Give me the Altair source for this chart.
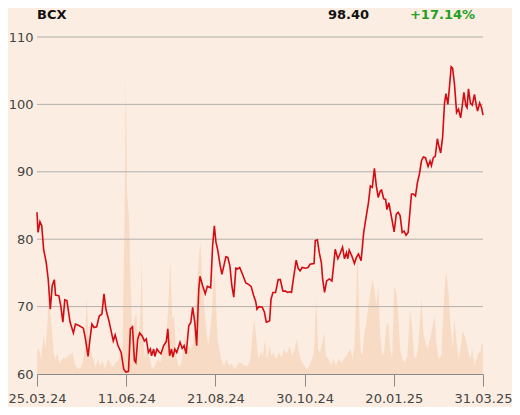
import altair as alt
import pandas as pd

# ---- data ----
symbol = "BCX"
last_price = "98.40"
change = "+17.14%"

tick_days = [0, 51, 102, 153, 204, 255]
tick_labels = ["25.03.24", "11.06.24", "21.08.24", "30.10.24", "20.01.25", "31.03.25"]
grid_values = [70, 80, 90, 100, 110]

price_day = [0.0, 0.6, 1.7, 2.7, 3.8, 5.3, 6.4, 7.6, 8.7, 9.9, 10.6, 12.5, 13.6, 14.8, 15.9, 17.1,
             18.9, 20.8, 22.0, 23.9, 26.5, 27.7, 29.2, 30.3, 31.4, 32.6, 34.1, 35.6, 37.1, 38.3,
             39.4, 41.3, 43.6, 44.7, 46.2, 48.1, 49.6, 50.8, 52.3, 53.4, 54.6, 55.7, 56.5, 57.6,
             58.7, 60.2, 61.4, 62.5, 63.7, 64.8, 65.5, 66.7, 67.4, 68.6, 69.7, 70.9, 72.4, 73.9,
             74.8, 75.8, 76.9, 77.7, 78.8, 79.9, 81.8, 83.0, 84.1, 85.3, 86.8, 87.9, 89.0, 90.2,
             91.3, 92.5, 93.2, 94.7, 96.2, 97.4, 99.3, 100.4, 101.4, 102.3, 103.4, 104.6, 105.7,
             106.8, 108.0, 109.1, 110.3, 111.4, 112.5, 113.7, 114.8, 115.9, 117.5, 119.4, 120.9,
             122.4, 123.9, 125.0, 125.8, 126.9, 128.8, 130.0, 131.1, 132.2, 133.0, 133.8, 134.9,
             136.4, 137.9, 139.1, 140.6, 142.1, 143.2, 144.4, 145.5, 146.6, 148.2, 149.3, 150.4,
             151.6, 153.5, 155.0, 156.1, 158.4, 159.1, 160.3, 161.4, 162.6, 163.3, 164.4, 165.6,
             167.1, 168.6, 169.4, 170.5, 172.0, 173.2, 174.7, 175.8, 176.9, 177.7, 178.5, 180.0,
             181.5, 182.6, 183.8, 185.3, 186.8, 188.3, 189.5, 190.6, 191.7, 192.9, 194.0, 195.1,
             196.3, 197.0, 198.2, 199.3, 200.1, 201.2, 202.0, 203.1, 204.2, 205.4, 206.5, 207.6,
             208.8, 209.9, 211.0, 212.2, 214.1, 215.2, 216.4, 217.5, 218.6, 219.8, 220.9, 222.1,
             223.6, 224.7, 225.5, 226.6, 227.7, 228.9, 229.6, 230.8, 231.9, 233.0, 233.8, 234.9,
             235.7, 236.8, 237.6, 238.7, 239.9, 241.0, 242.2, 242.9, 244.1, 245.2, 245.9, 246.7,
             247.8, 248.9, 250.1, 251.2, 251.9, 253.1, 254.2, 255.0]
price = [84.0, 81.0, 82.6, 82.0, 78.5, 76.5, 74.1, 69.6, 73.1, 74.0, 71.7, 71.6, 70.1, 67.7, 71.0,
         70.9, 67.7, 66.1, 67.4, 67.2, 66.8, 65.2, 62.6, 65.2, 67.4, 66.9, 67.0, 68.6, 68.9, 71.9,
         69.6, 67.7, 64.9, 65.8, 64.3, 63.2, 60.7, 60.3, 60.4, 66.7, 67.0, 62.0, 61.7, 65.2, 66.1,
         65.6, 64.9, 65.2, 63.2, 63.7, 62.7, 63.7, 62.6, 63.7, 63.3, 63.0, 64.2, 64.8, 66.7, 62.7,
         63.7, 62.5, 63.7, 63.2, 64.7, 63.8, 64.2, 63.0, 67.2, 67.6, 69.9, 67.7, 64.2, 72.6, 74.5,
         73.1, 71.9, 73.0, 72.8, 79.0, 82.0, 79.6, 78.3, 76.3, 74.8, 76.0, 77.4, 77.3, 76.0, 73.1,
         71.4, 75.7, 75.6, 75.8, 74.8, 73.5, 73.3, 73.0, 71.6, 70.8, 69.6, 70.0, 69.9, 69.2, 67.7,
         67.8, 67.9, 71.1, 72.1, 72.1, 74.0, 74.0, 72.3, 72.3, 72.1, 72.2, 72.1, 74.1, 76.9, 75.7,
         75.3, 75.8, 75.7, 75.8, 76.3, 76.4, 79.8, 79.9, 78.0, 76.5, 74.1, 72.1, 73.8, 74.1, 73.8,
         75.6, 78.5, 77.1, 77.8, 78.8, 77.1, 78.0, 77.1, 78.4, 77.5, 76.4, 77.3, 77.8, 76.8, 81.0,
         83.5, 85.4, 87.9, 87.7, 90.5, 87.9, 86.2, 87.2, 87.3, 86.0, 85.9, 84.4, 85.4, 84.2, 82.7,
         81.1, 83.7, 84.0, 83.5, 81.0, 81.2, 80.6, 81.0, 86.7, 86.7, 86.4, 88.4, 89.6, 91.6, 92.2,
         92.1, 90.8, 91.6, 90.9, 92.1, 92.3, 94.9, 94.0, 92.8, 95.1, 100.2, 101.6, 100.0, 102.2,
         105.6, 105.4, 103.0, 98.8, 99.3, 98.0, 99.3, 101.8, 99.8, 99.5, 102.3, 100.2, 99.9, 101.5,
         99.8, 99.0, 100.2, 99.5, 98.4]

vol_day = [0.0, 1.1, 2.3, 3.8, 4.9, 6.1, 6.6, 7.6, 8.4, 9.5, 10.6, 11.7, 12.9, 14.0, 15.2, 16.3,
           17.8, 19.3, 20.5, 21.6, 22.7, 24.6, 26.1, 27.3, 28.4, 29.6, 30.7, 32.2, 33.3, 34.9,
           36.0, 37.5, 39.0, 40.5, 41.7, 43.2, 44.7, 46.2, 47.7, 48.9, 50.0, 50.8, 51.5, 52.7,
           53.4, 54.6, 55.7, 56.8, 58.0, 59.1, 59.9, 60.6, 61.8, 62.9, 64.4, 65.9, 67.4, 69.0,
           70.5, 72.0, 73.5, 75.0, 76.2, 77.3, 78.4, 79.6, 80.7, 82.2, 83.4, 84.5, 85.6, 86.8,
           87.9, 89.0, 90.2, 91.3, 92.5, 93.4, 94.3, 95.5, 96.6, 97.8, 98.9, 100.0, 101.2, 101.9,
           103.1, 104.2, 105.3, 106.8, 108.4, 109.9, 111.4, 112.9, 114.4, 115.9, 117.5, 119.0,
           120.5, 122.0, 123.1, 124.3, 125.4, 126.6, 128.1, 129.2, 130.4, 131.5, 133.0, 134.1,
           135.3, 136.8, 138.3, 139.8, 141.3, 142.8, 144.4, 145.9, 147.4, 148.5, 149.7, 151.2,
           152.7, 154.2, 155.7, 157.2, 158.4, 159.1, 159.7, 160.7, 161.8, 162.9, 164.1, 165.2,
           166.7, 168.2, 169.4, 170.9, 172.4, 173.9, 175.4, 176.9, 178.1, 179.2, 180.4, 181.5,
           182.6, 183.2, 183.8, 184.9, 186.0, 187.2, 188.3, 189.5, 190.6, 191.7, 192.9, 194.0,
           195.1, 196.3, 197.4, 198.5, 199.7, 200.8, 202.0, 203.1, 204.2, 205.4, 206.5, 207.6,
           208.8, 210.3, 211.8, 213.3, 214.4, 215.6, 216.7, 217.8, 219.0, 219.8, 220.9, 222.1,
           223.2, 224.7, 226.2, 227.4, 228.5, 229.6, 231.2, 232.3, 233.4, 234.2, 235.3, 236.5,
           237.6, 238.7, 239.9, 241.0, 242.2, 243.3, 244.4, 245.6, 246.7, 247.8, 248.9, 250.1,
           251.2, 252.4, 253.5, 254.2, 255.0]
vol = [70, 75, 45, 115, 75, 165, 235, 185, 145, 65, 45, 65, 30, 40, 50, 45,
       55, 60, 65, 30, 20, 15, 35, 75, 235, 95, 65, 45, 20, 45,
       25, 40, 15, 45, 35, 20, 30, 40, 55, 75, 445, 900, 545, 460,
       295, 95, 165, 185, 65, 185, 355, 125, 45, 75, 45, 15, 25, 45,
       35, 65, 85, 195, 345, 165, 175, 55, 25, 25, 65, 115, 75, 85,
       75, 85, 145, 245, 345, 400, 295, 215, 145, 85, 125, 185, 305, 285,
       115, 75, 45, 25, 45, 25, 30, 15, 25, 35, 30, 25,
       25, 45, 115, 165, 105, 45, 65, 55, 105, 45, 85, 55,
       65, 45, 65, 50, 75, 60, 85, 55, 75, 105, 65, 40,
       25, 15, 25, 45, 65, 165, 225, 75, 65, 85, 125, 55,
       45, 25, 45, 25, 45, 35, 45, 55, 65, 75, 45, 85,
       245, 390, 245, 75, 55, 125, 155, 205, 245, 285, 255, 205,
       265, 115, 55, 65, 145, 155, 75, 45, 265, 245, 185, 75,
       45, 35, 55, 195, 145, 55, 45, 75, 165, 225, 125, 95,
       75, 105, 145, 175, 85, 45, 55, 185, 285, 305, 245, 145,
       75, 165, 95, 45, 75, 130, 115, 95, 65, 45, 75, 25,
       45, 65, 65, 95, 85]

price_df = pd.DataFrame({"day": price_day, "price": price})
vol_df = pd.DataFrame({"day": vol_day, "volume": vol})
grid_df = pd.DataFrame({"level": grid_values})

BG = "#fbede1"
FONT = "DejaVu Sans"

label_expr = " : ".join(
    f"datum.value == {d} ? '{l}'" for d, l in zip(tick_days, tick_labels)
) + " : ''"

x_scale = alt.Scale(domain=[tick_days[0], tick_days[-1]], nice=False, zero=False)
price_scale = alt.Scale(domain=[60, 110], nice=False, zero=False)

x_axis = alt.Axis(
    title=None, values=tick_days, labelExpr=label_expr, grid=False,
    domain=True, domainColor="#8a8a8a", ticks=True, tickColor="#8a8a8a",
    tickSize=12, labelPadding=6, labelFontSize=13, labelColor="#444444",
    labelFont=FONT, labelOverlap=False, labelBound=False, labelFlush=False,
)

volume = alt.Chart(vol_df).mark_area(color="#f8dbc4", interpolate="linear").encode(
    x=alt.X("day:Q", scale=x_scale, axis=x_axis),
    y=alt.Y("volume:Q", scale=alt.Scale(domain=[0, 1014], nice=False), axis=None),
)

grid = alt.Chart(grid_df).mark_rule(color="#b3b0ab", strokeWidth=1).encode(
    y=alt.Y("level:Q", scale=price_scale, axis=None),
)

line = alt.Chart(price_df).mark_line(color="#d50b13", strokeWidth=1.6).encode(
    x=alt.X("day:Q", scale=x_scale, axis=x_axis),
    y=alt.Y(
        "price:Q",
        scale=price_scale,
        axis=alt.Axis(
            title=None, values=[60, 70, 80, 90, 100, 110], grid=False, domain=False,
            ticks=False, labelPadding=4, labelFontSize=13, labelColor="#444444",
            labelFont=FONT, orient="left",
        ),
    ),
)

one = alt.Data(values=[{}])
header_style = dict(baseline="top", font=FONT, fontSize=13, fontWeight="bold")
t_symbol = alt.Chart(one).mark_text(align="left", color="#111111", **header_style).encode(
    x=alt.value(0), y=alt.value(-28), text=alt.value(symbol))
t_price = alt.Chart(one).mark_text(align="right", color="#111111", **header_style).encode(
    x=alt.value(332), y=alt.value(-28), text=alt.value(last_price))
t_change = alt.Chart(one).mark_text(align="right", color="#1fa01f", **header_style).encode(
    x=alt.value(438), y=alt.value(-28), text=alt.value(change))

chart = alt.layer(volume, grid, line, t_symbol, t_price, t_change).resolve_scale(
    y="independent"
).properties(
    width=446, height=337, background=BG,
    autosize=alt.AutoSizeParams(type="none"),
    padding={"left": 29, "top": 29, "right": 29, "bottom": 33},
).configure_view(stroke=None, fill=BG)

chart.save("out.html", embed_options={"renderer": "svg", "actions": False})
